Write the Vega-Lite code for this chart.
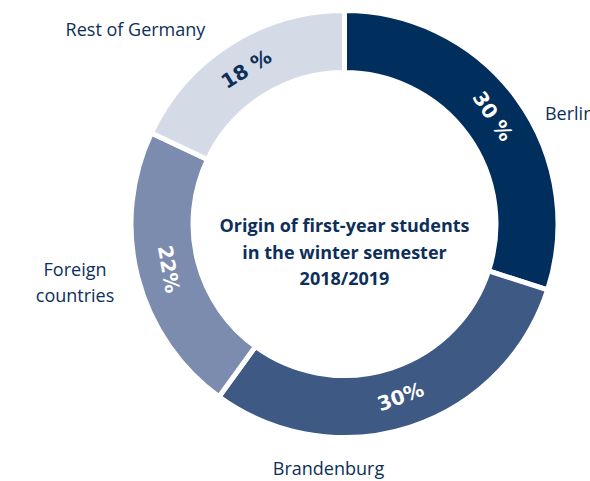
{
  "$schema": "https://vega.github.io/schema/vega-lite/v6.json",
  "width": 491,
  "height": 448,
  "autosize": "none",
  "padding": {"left": 99, "top": 0, "right": 0, "bottom": 33},
  "background": "white",
  "config": {"view": {"stroke": null}, "text": {"font": "Open Sans"}},
  "data": {"values": [
    {"origin": "Berlin", "share": 30, "label": "30 %"},
    {"origin": "Brandenburg", "share": 30, "label": "30%"},
    {"origin": "Foreign countries", "share": 22, "label": "22%"},
    {"origin": "Rest of Germany", "share": 18, "label": "18 %"}
  ]},
  "layer": [
    {
      "mark": {"type": "arc", "radius": 213.5, "radius2": 151.5, "stroke": "white", "strokeWidth": 5},
      "encoding": {
        "theta": {"field": "share", "type": "quantitative", "stack": true},
        "order": {"field": "origin", "sort": "ascending"},
        "color": {"field": "origin", "type": "nominal", "legend": null,
          "scale": {"domain": ["Berlin", "Brandenburg", "Foreign countries", "Rest of Germany"],
                    "range": ["#002e5d", "#3d5984", "#7b8cae", "#d5dbe6"]}}
      }
    },
    {
      "mark": {"type": "text", "radius": 182.5, "angle": 56, "font": "DejaVu Sans", "fontSize": 20, "fontWeight": "bold", "color": "white", "align": "center", "baseline": "middle"},
      "encoding": {
        "theta": {"field": "share", "type": "quantitative", "stack": true},
        "order": {"field": "origin", "sort": "ascending"},
        "text": {"condition": {"test": "datum.origin === 'Berlin'", "field": "label"}, "value": ""}
      }
    },
    {
      "mark": {"type": "text", "radius": 182.5, "angle": -20, "font": "DejaVu Sans", "fontSize": 20, "fontWeight": "bold", "color": "white", "align": "center", "baseline": "middle"},
      "encoding": {
        "theta": {"field": "share", "type": "quantitative", "stack": true},
        "order": {"field": "origin", "sort": "ascending"},
        "text": {"condition": {"test": "datum.origin === 'Brandenburg'", "field": "label"}, "value": ""}
      }
    },
    {
      "mark": {"type": "text", "radius": 182.5, "angle": 80, "font": "DejaVu Sans", "fontSize": 20, "fontWeight": "bold", "color": "white", "align": "center", "baseline": "middle"},
      "encoding": {
        "theta": {"field": "share", "type": "quantitative", "stack": true},
        "order": {"field": "origin", "sort": "ascending"},
        "text": {"condition": {"test": "datum.origin === 'Foreign countries'", "field": "label"}, "value": ""}
      }
    },
    {
      "mark": {"type": "text", "radius": 182.5, "angle": -32, "font": "DejaVu Sans", "fontSize": 20, "fontWeight": "bold", "color": "#0d2f5a", "align": "center", "baseline": "middle"},
      "encoding": {
        "theta": {"field": "share", "type": "quantitative", "stack": true},
        "order": {"field": "origin", "sort": "ascending"},
        "text": {"condition": {"test": "datum.origin === 'Rest of Germany'", "field": "label"}, "value": ""}
      }
    },
    {
      "mark": {"type": "text", "radius": 230, "fontSize": 18, "color": "#0d2f5a", "align": "left", "baseline": "alphabetic", "dx": 14.4, "dy": 31.2},
      "encoding": {
        "theta": {"field": "share", "type": "quantitative", "stack": true},
        "order": {"field": "origin", "sort": "ascending"},
        "text": {"condition": {"test": "datum.origin === 'Berlin'", "field": "origin"}, "value": ""}
      }
    },
    {
      "mark": {"type": "text", "radius": 230, "fontSize": 18, "color": "#0d2f5a", "align": "center", "baseline": "alphabetic", "dx": -87.1, "dy": 32.3},
      "encoding": {
        "theta": {"field": "share", "type": "quantitative", "stack": true},
        "order": {"field": "origin", "sort": "ascending"},
        "text": {"condition": {"test": "datum.origin === 'Brandenburg'", "field": "origin"}, "value": ""}
      }
    },
    {
      "mark": {"type": "text", "radius": 230, "fontSize": 18, "color": "#0d2f5a", "align": "center", "baseline": "alphabetic", "lineBreak": " ", "lineHeight": 26, "dx": -46.7, "dy": -5.2},
      "encoding": {
        "theta": {"field": "share", "type": "quantitative", "stack": true},
        "order": {"field": "origin", "sort": "ascending"},
        "text": {"condition": {"test": "datum.origin === 'Foreign countries'", "field": "origin"}, "value": ""}
      }
    },
    {
      "mark": {"type": "text", "radius": 230, "fontSize": 18, "color": "#0d2f5a", "align": "center", "baseline": "alphabetic", "dx": -85.8, "dy": 6.2},
      "encoding": {
        "theta": {"field": "share", "type": "quantitative", "stack": true},
        "order": {"field": "origin", "sort": "ascending"},
        "text": {"condition": {"test": "datum.origin === 'Rest of Germany'", "field": "origin"}, "value": ""}
      }
    },
    {
      "data": {"values": [{"caption": "Origin of first-year students\nin the winter semester\n2018/2019"}]},
      "mark": {"type": "text", "fontSize": 18, "fontWeight": "bold", "color": "#0d2f5a", "align": "center", "baseline": "middle", "lineBreak": "\n", "lineHeight": 26.7, "dy": 3},
      "encoding": {"text": {"field": "caption"}}
    }
  ]
}
